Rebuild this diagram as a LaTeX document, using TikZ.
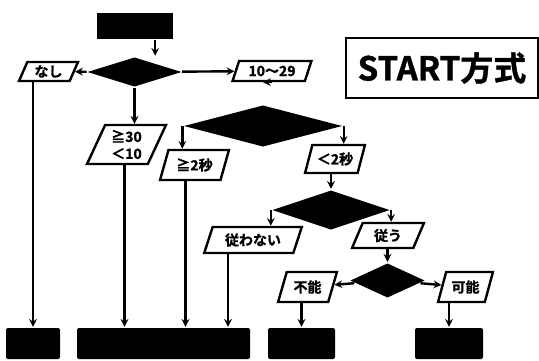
\documentclass[tikz,border=0pt]{standalone}
\usepackage{fontspec}
\setmainfont{Noto Sans CJK JP}[BoldFont={Noto Sans CJK JP Bold}, BoldFeatures={FakeBold=1.2}]
\usetikzlibrary{positioning,shapes.geometric,arrows}

\begin{document}
\begin{tikzpicture}[x=1pt, y=-1pt, >=stealth, line width=2.4pt,
      every node/.style={font=\bfseries\fontsize{14}{14}\selectfont, inner sep=0pt},
      every edge/.style={draw, line width=2.4pt},
      decision/.style={diamond, fill=black, minimum width=#1},
      cond/.style={trapezium, trapezium left angle=66, trapezium right angle=114,
        trapezium stretches=true, draw, fill=white, align=center},
      result/.style={rectangle, fill=black, rounded corners=2pt, minimum height=31pt}
  ]
    \useasboundingbox (0,0) rectangle (539,360);
    \node[rectangle, fill=black, minimum width=76pt, minimum height=26pt] (top) at (135,26) {};
    \node[decision=95pt, minimum height=30pt] (d1) at (134.5,72) {};
    \node[cond, minimum width=59pt, minimum height=19pt] (none) at (48.5,71.5) {なし};
    \node[cond, minimum width=79pt, minimum height=20pt] (range) at (272,71) {10～29};
    \node[cond, minimum width=79pt, minimum height=39pt] (out) at (126.5,144.5) {≧30\\[3pt]＜10};
    \node[decision=159pt, minimum height=42pt] (d2) at (263,126) {};
    \node[cond, minimum width=69pt, minimum height=30pt] (slow) at (194.5,165) {≧2秒};
    \node[cond, minimum width=60pt, minimum height=28pt] (fast) at (335,159) {＜2秒};
    \node[decision=118pt, minimum height=40pt] (d3) at (331,210) {};
    \node[cond, minimum width=98pt, minimum height=26pt] (refuse) at (253,240) {従わない};
    \node[cond, minimum width=72pt, minimum height=25pt] (obey) at (388,235.5) {従う};
    \node[decision=75pt, minimum height=35pt] (d4) at (387.5,280.5) {};
    \node[cond, minimum width=59pt, minimum height=30pt] (unable) at (307.5,287) {不能};
    \node[cond, minimum width=55pt, minimum height=30pt] (able) at (465.5,287) {可能};
    \node[result, minimum width=54pt] (r1) at (33,343.5) {};
    \node[result, minimum width=173pt] (r2) at (163.5,343.5) {};
    \node[result, minimum width=67pt] (r3) at (301.5,343.5) {};
    \node[result, minimum width=68pt] (r4) at (449,343.5) {};
    \node[draw, minimum width=192pt, minimum height=60pt,
      font=\bfseries\fontsize{33}{36}\selectfont] (title) at (442,68) {START方式};
    \draw[->] ([xshift=-19pt]top.south east) -- ([xshift=-19pt]top.south east |- d1.north);
    \path[->]
    (d1) edge (none)
         edge (range)
    (d1.south) edge (d1.south |- out.north)
    (range.south) edge (range.south -| d2.north)
    (d2.west) edge (d2.west |- slow.north)
    (d2.east) edge (d2.east |- fast.north)
    (d3.north |- fast.south) edge (d3.north)
    (d3.west) edge (d3.west |- refuse.north)
    (d3.east) edge (d3.east |- obey.north)
    (d4.north |- obey.south) edge (d4.north)
    (d4) edge (unable)
         edge (able)
    (r1.north |- none.south) edge (r1.north)
    ([xshift=-2pt]out.south) edge ([xshift=-2pt]out.south |- r2.north)
    ([xshift=-9pt]slow.south) edge ([xshift=-9pt]slow.south |- r2.north)
    ([xshift=-25pt]refuse.south) edge ([xshift=-25pt]refuse.south |- r2.north)
    (r3.north |- unable.south) edge (r3.north)
    (r4.north |- able.south) edge (r4.north)
          ;
  \end{tikzpicture}
\end{document}
